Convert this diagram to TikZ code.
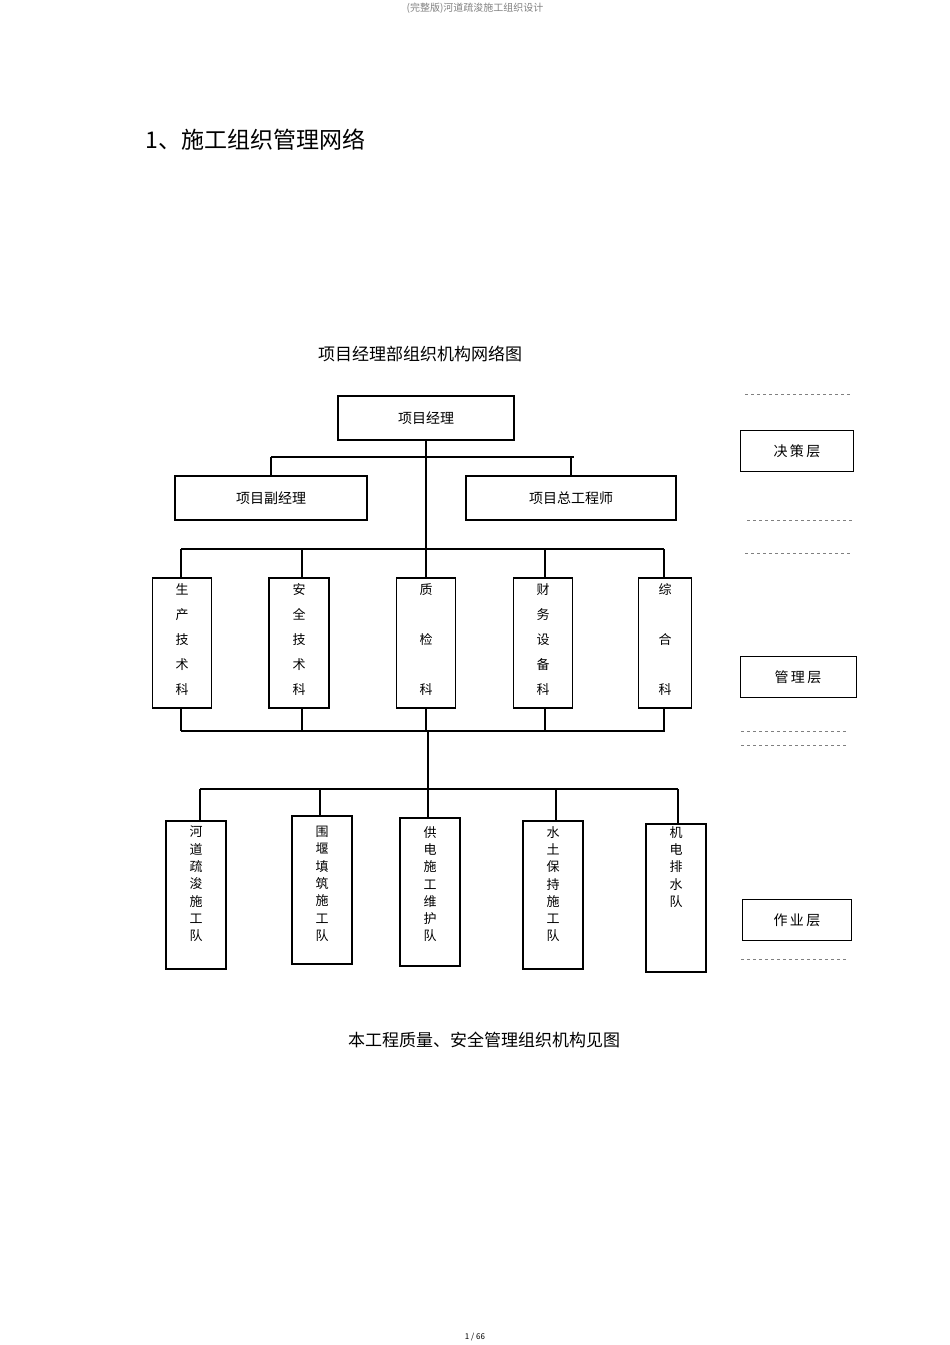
\documentclass[tikz,border=0pt]{standalone}
\usepackage{fontspec}
\setmainfont{Noto Sans CJK SC}
\begin{document}
\begin{tikzpicture}[x=1pt,y=-1pt,
  bx/.style={draw,line width=1.1pt,inner sep=0pt},
  ln/.style={line width=1.1pt},
  dl/.style={dashed,line width=0.6pt,gray},
  ta/.style={font=\fontsize{13}{25}\selectfont,align=center,anchor=north,inner sep=0pt},
  tb/.style={font=\fontsize{13}{17.3}\selectfont,align=center,anchor=north,inner sep=0pt},
  hz/.style={font=\fontsize{14}{16}\selectfont}]
\useasboundingbox (0,0) rectangle (950,1345);
\node[font=\fontsize{10}{12}\selectfont,text=gray] (hdr) at (475,8) {(完整版)河道疏浚施工组织设计};
\node[font=\fontsize{23}{26}\selectfont,anchor=west] (h1) at (142,140) {1、施工组织管理网络};
\node[font=\fontsize{17}{20}\selectfont] (ttl) at (420,354) {项目经理部组织机构网络图};
% level 1
\node[bx,minimum width=176pt,minimum height=44pt,hz] (pm) at (426,418) {项目经理};
\node[bx,minimum width=192pt,minimum height=44pt,hz] (dpm) at (271,498) {项目副经理};
\node[bx,minimum width=210pt,minimum height=44pt,hz] (ce) at (571,498) {项目总工程师};
\coordinate (j1) at (426,457);
\coordinate (j2) at (426,549);
\draw[ln] (pm.south) -- (j1) (271,457) -- (574,457) (271,457) -- (dpm.north) (571,457) -- (ce.north);
\draw[ln] (j1) -- (j2) (181,549) -- (664,549);
% level 2
\foreach \n/\x/\w/\t in {a/182/59/生\\产\\技\\术\\科, b/299/60/安\\全\\技\\术\\科, c/426/59/质\\ \\检\\ \\科, d/543/59/财\\务\\设\\备\\科, e/665/53/综\\ \\合\\ \\科}{
  \node[bx,minimum width=\w pt,minimum height=130pt] (m\n) at (\x,643) {};
  \node[ta] (tm\n) at (\x,583) {\t};
}
\foreach \n/\x in {a/181,b/302,c/426,d/545,e/664}{
  \draw[ln] (\x,549) -- (\x,578);
  \draw[ln] (\x,708) -- (\x,731);
}
\draw[ln] (181,731) -- (665,731);
\coordinate (j3) at (428,789);
\draw[ln] (428,731) -- (j3) (200,789) -- (678,789);
% level 3
\foreach \n/\x/\y/\t in {a/196/895/河\\道\\疏\\浚\\施\\工\\队, b/322/890/围\\堰\\填\\筑\\施\\工\\队, c/430/892/供\\电\\施\\工\\维\\护\\队, d/553/895/水\\土\\保\\持\\施\\工\\队, e/676/898/机\\电\\排\\水\\队}{
  \node[bx,minimum width=60pt,minimum height=148pt] (w\n) at (\x,\y) {};
  \node[tb] (tw\n) at (\x,826) {\t};
}
\foreach \x/\y in {200/821,320/816,428/818,556/821,678/824}{
  \draw[ln] (\x,789) -- (\x,\y);
}
% right column
\draw[dl] (745,394) -- (851,394);
\node[draw,line width=0.8pt,minimum width=113pt,minimum height=41pt,hz] (l1) at (797,451) {决\,策\,层};
\draw[dl] (747,520) -- (852,520) (745,553) -- (851,553);
\node[draw,line width=0.8pt,minimum width=116pt,minimum height=41pt,hz] (l2) at (798,677) {管\,理\,层};
\draw[dl] (741,731) -- (847,731) (741,745) -- (847,745);
\node[draw,line width=0.8pt,minimum width=109pt,minimum height=41pt,hz] (l3) at (797,920) {作\,业\,层};
\draw[dl] (741,959) -- (847,959);
\node[font=\fontsize{17}{20}\selectfont] (cap) at (484,1040) {本工程质量、安全管理组织机构见图};
\node[font=\fontsize{8}{10}\selectfont] (pg) at (475,1337) {1 / 66};
\end{tikzpicture}
\end{document}
